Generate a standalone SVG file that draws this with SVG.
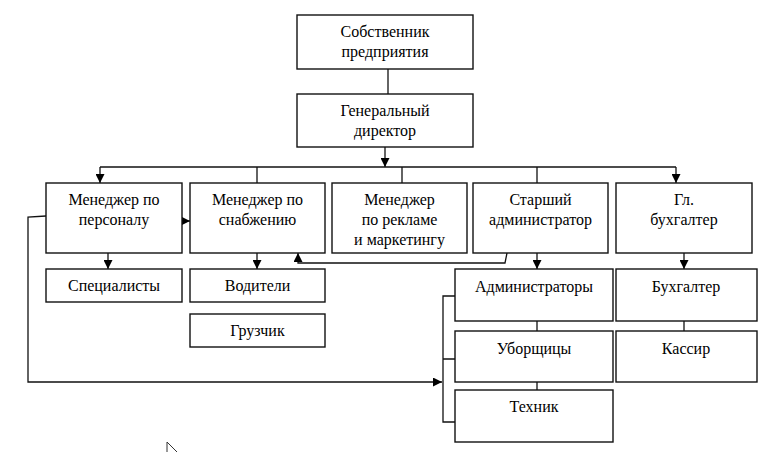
<svg xmlns="http://www.w3.org/2000/svg" width="782" height="452" viewBox="0 0 782 452">
<defs>
<marker id="ah" viewBox="0 0 10 10" markerWidth="9" markerHeight="9" refX="10" refY="5" orient="auto" markerUnits="userSpaceOnUse">
<path d="M0,0 L10,5 L0,10 z" fill="#000"/>
</marker>
<style>
.box{fill:#fff;stroke:#111;stroke-width:1.4}
.t{font-family:"Liberation Serif","Times New Roman",serif;font-size:16px;fill:#000;text-anchor:middle}
.c{fill:none;stroke:#111;stroke-width:1.3}
.a{marker-end:url(#ah)}
</style>
</defs>
<rect width="782" height="452" fill="#fff"/>
<g id="connectors">
<path class="c" d="M388,69 V94"/>
<path class="c a" d="M385,147 V167"/>
<path class="c" d="M100,167 H676"/>
<path class="c a" d="M100,167 V183"/>
<path class="c a" d="M676,167 V183"/>
<path class="c" d="M257,167 V183 M402,167 V183 M537,167 V183"/>
<path class="c a" d="M182,221 H190"/>
<path class="c a" d="M108,253 V269"/>
<path class="c a" d="M257,253 V269"/>
<path class="c a" d="M46,216 L28,217 V382 H442"/>
<path class="c" d="M455,296 H443 V422 H455 M443,359 H455"/>
<path class="c a" d="M507,253 L505,263 H298 V253"/>
<path class="c a" d="M537,253 V269"/>
<path class="c" d="M537,321 V331 M537,382 V390"/>
<path class="c a" d="M684,253 V269"/>
<path class="c" d="M684,321 V331"/>
</g>
<g id="owner"><rect class="box" x="297" y="15" width="176" height="54"/><text class="t" x="385" y="37">Собственник</text><text class="t" x="385" y="57">предприятия</text></g>
<g id="gd"><rect class="box" x="297" y="94" width="176" height="53"/><text class="t" x="385" y="116">Генеральный</text><text class="t" x="385" y="136">директор</text></g>
<g id="hr"><rect class="box" x="46" y="183" width="136" height="70"/><text class="t" x="114" y="205">Менеджер по</text><text class="t" x="114" y="225">персоналу</text></g>
<g id="supply"><rect class="box" x="190" y="183" width="135" height="70"/><text class="t" x="257.5" y="205">Менеджер по</text><text class="t" x="257.5" y="225">снабжению</text></g>
<g id="marketing"><rect class="box" x="332" y="183" width="135" height="70"/><text class="t" x="399.5" y="205">Менеджер</text><text class="t" x="399.5" y="225">по рекламе</text><text class="t" x="399.5" y="245">и маркетингу</text></g>
<g id="senior-admin"><rect class="box" x="473" y="183" width="135" height="70"/><text class="t" x="540.5" y="205">Старший</text><text class="t" x="540.5" y="225">администратор</text></g>
<g id="chief-acc"><rect class="box" x="616" y="183" width="136" height="70"/><text class="t" x="684" y="205">Гл.</text><text class="t" x="684" y="225">бухгалтер</text></g>
<g id="specialists"><rect class="box" x="46" y="269" width="136" height="33"/><text class="t" x="114" y="291">Специалисты</text></g>
<g id="drivers"><rect class="box" x="190" y="269" width="135" height="33"/><text class="t" x="257.5" y="291">Водители</text></g>
<g id="loader"><rect class="box" x="190" y="314" width="135" height="33"/><text class="t" x="257.5" y="336">Грузчик</text></g>
<g id="admins"><rect class="box" x="455" y="269" width="158" height="52"/><text class="t" x="534" y="292">Администраторы</text></g>
<g id="cleaners"><rect class="box" x="455" y="331" width="158" height="51"/><text class="t" x="534" y="354">Уборщицы</text></g>
<g id="tech"><rect class="box" x="455" y="390" width="158" height="52"/><text class="t" x="534" y="412">Техник</text></g>
<g id="accountant"><rect class="box" x="616" y="269" width="141" height="52"/><text class="t" x="686" y="292">Бухгалтер</text></g>
<g id="cashier"><rect class="box" x="616" y="331" width="141" height="51"/><text class="t" x="686" y="354">Кассир</text></g>
<path d="M167,442 V452 M167,442 L177,452" fill="none" stroke="#333" stroke-width="1"/>
</svg>
